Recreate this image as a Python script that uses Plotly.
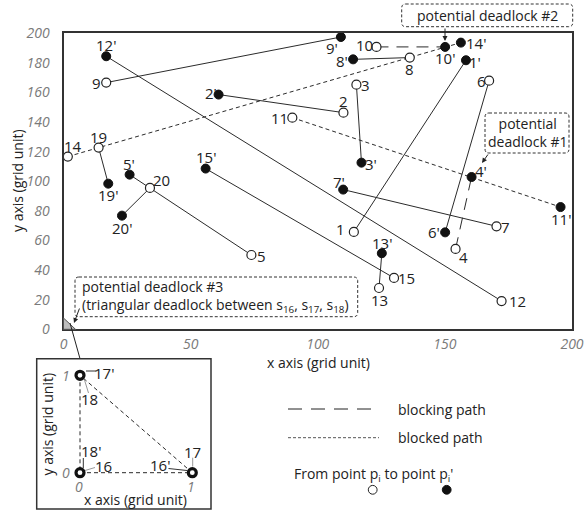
import plotly.graph_objects as go

W, H = 587, 510
FONT = "Open Sans"

# ---------------- data ----------------
path_ids = ["1", "2", "3", "4", "5", "6", "7", "8", "9", "10",
            "11", "12", "13", "14", "15", "19", "20"]
start_x = [114.2, 110.1, 115.2, 154.2, 73.9, 167.4, 170.3, 136.2, 16.8, 123.1,
           90.0, 172.3, 124.1, 1.7, 130.0, 13.8, 34.0]
start_y = [65.8, 146.4, 165.3, 54.3, 50.2, 168.0, 69.6, 183.6, 166.7, 190.8,
           143.0, 19.1, 27.9, 116.7, 34.7, 122.8, 95.5]
end_x = [158.3, 61.0, 117.2, 160.5, 26.0, 150.1, 110.0, 113.9, 109.1, 150.1,
         195.5, 16.8, 125.2, 156.3, 55.9, 17.6, 23.0]
end_y = [181.8, 158.6, 112.6, 102.9, 104.5, 65.5, 94.4, 182.4, 197.5, 190.8,
         82.6, 184.5, 51.4, 193.7, 108.6, 98.4, 76.8]
path_kind = ["free", "free", "free", "blocking", "free", "free", "free", "free",
             "free", "blocking", "blocked", "free", "free", "blocked", "free",
             "free", "free"]

x_ticks = [0, 50, 100, 150, 200]
y_ticks = [0, 20, 40, 60, 80, 100, 120, 140, 160, 180, 200]

# triangular deadlock (unit grid)
tri_ids = ["16", "17", "18"]
tri_start_x = [0, 1, 0]
tri_start_y = [0, 0, 1]
tri_end_x = [1, 0, 0]
tri_end_y = [0, 1, 0]
inset_ticks = [0, 1]

# ---------------- label placement (pixel offsets, +y = down) ----------------
start_off = {"1": (-13, -3), "2": (0, -12), "3": (9, 0), "4": (8, 8), "5": (10, 1),
             "6": (-8, 0), "7": (9, 1), "8": (0, 11), "9": (-10, 0), "10": (-12, -2),
             "11": (-13, 0), "12": (16, 0), "13": (0, 12), "14": (5, -11),
             "15": (12, 0), "19": (0, -11), "20": (12, -8)}
end_off = {"1": (9, 2), "2": (-8, -2), "3": (10, 1), "4": (9, -6), "5": (-1, -11),
           "6": (-11, 0), "7": (-4, -8), "8": (-11, 2), "9": (-9, 11), "10": (0, 11),
           "11": (0, 12), "12": (0, -11), "13": (0, -10), "14": (15, 0),
           "15": (0, -12), "19": (0, 11), "20": (0, 12)}


def PX(x):
    return x / W


def PY(y):
    return 1 - y / H


DASH = {"free": "solid", "blocking": "12px,8px", "blocked": "4px,3px"}

fig = go.Figure()

# path segments, grouped by kind
for kind in ["free", "blocking", "blocked"]:
    xs, ys = [], []
    for i, k in enumerate(path_kind):
        if k == kind:
            xs += [start_x[i], end_x[i], None]
            ys += [start_y[i], end_y[i], None]
    fig.add_trace(go.Scatter(x=xs, y=ys, mode="lines", hoverinfo="skip",
                             line=dict(color="#2b2b2b", width=1, dash=DASH[kind]),
                             showlegend=False, cliponaxis=False))

fig.add_trace(go.Scatter(x=start_x, y=start_y, mode="markers", showlegend=False,
                         cliponaxis=False,
                         marker=dict(size=9, color="white",
                                     line=dict(color="#222", width=1.2))))
fig.add_trace(go.Scatter(x=end_x, y=end_y, mode="markers", showlegend=False,
                         cliponaxis=False,
                         marker=dict(size=9, color="#111",
                                     line=dict(color="#111", width=1))))

annotations = []
lab_font = dict(family=FONT, size=15, color="#222")


def text_at(x, y, txt, font, xanchor="center", **kw):
    # paper-pixel placed text, anchored explicitly
    d = dict(x=PX(x), y=PY(y), xref="paper", yref="paper", text=txt,
             showarrow=False, xanchor=xanchor, yanchor="middle", font=font)
    d.update(kw)
    return d


for i, pid in enumerate(path_ids):
    dx, dy = start_off[pid]
    annotations.append(dict(x=start_x[i], y=start_y[i], xref="x", yref="y",
                            text=pid, showarrow=False, xshift=dx, yshift=-dy,
                            xanchor="center", yanchor="middle", font=lab_font))
    dx, dy = end_off[pid]
    annotations.append(dict(x=end_x[i], y=end_y[i], xref="x", yref="y",
                            text=pid + "'", showarrow=False, xshift=dx, yshift=-dy,
                            xanchor="center", yanchor="middle", font=lab_font))

# ---------------- inset: triangular deadlock ----------------
xs, ys = [], []
for i in range(3):
    xs += [tri_start_x[i], tri_end_x[i], None]
    ys += [tri_start_y[i], tri_end_y[i], None]
fig.add_trace(go.Scatter(x=xs, y=ys, mode="lines", xaxis="x2", yaxis="y2",
                         hoverinfo="skip", showlegend=False, cliponaxis=False,
                         line=dict(color="#2b2b2b", width=1, dash=DASH["blocked"])))
fig.add_trace(go.Scatter(x=tri_start_x, y=tri_start_y, mode="markers",
                         xaxis="x2", yaxis="y2", showlegend=False, cliponaxis=False,
                         marker=dict(size=8, color="white",
                                     line=dict(color="#111", width=3.2))))

tick_font = dict(family=FONT, size=14, color="#7a7a7a", style="italic")

# inset labels: (text, point index, label centre offset)
inset_labels = [("17'", 2, (24, -2)), ("18", 2, (9, 24)), ("18'", 0, (11, -22)),
                ("16", 0, (23, -7)), ("16'", 1, (-32, -8)), ("17", 1, (0, -21))]
for txt, idx, (dx, dy) in inset_labels:
    annotations.append(dict(x=tri_start_x[idx], y=tri_start_y[idx], xref="x2",
                            yref="y2", text=txt, showarrow=False, xshift=dx,
                            yshift=-dy, xanchor="center", yanchor="middle",
                            font=lab_font))
for v in inset_ticks:
    annotations.append(dict(x=v, y=0, xref="x2", yref="y2", text=str(v),
                            showarrow=False, yshift=-14, xshift=-1.5,
                            xanchor="center", yanchor="middle", font=tick_font))
    annotations.append(dict(x=0, y=v, xref="x2", yref="y2", text=str(v),
                            showarrow=False, xshift=-14, xanchor="center",
                            yanchor="middle", font=tick_font))

ax_font = dict(family=FONT, size=14, color="#222")
annotations += [
    text_at(135, 499, "x axis (grid unit)", ax_font),
    text_at(46.5, 424, "y axis (grid unit)", ax_font, textangle=-90),
    text_at(318.5, 362, "x axis (grid unit)", ax_font),
    text_at(17, 181, "y axis (grid unit)", ax_font, textangle=-90),
]

# ---------------- call-outs ----------------
def rrect(x0, y0, x1, y1, r=4):
    pts = (f"M {PX(x0 + r)},{PY(y0)} L {PX(x1 - r)},{PY(y0)} "
           f"Q {PX(x1)},{PY(y0)} {PX(x1)},{PY(y0 + r)} L {PX(x1)},{PY(y1 - r)} "
           f"Q {PX(x1)},{PY(y1)} {PX(x1 - r)},{PY(y1)} L {PX(x0 + r)},{PY(y1)} "
           f"Q {PX(x0)},{PY(y1)} {PX(x0)},{PY(y1 - r)} L {PX(x0)},{PY(y0 + r)} "
           f"Q {PX(x0)},{PY(y0)} {PX(x0 + r)},{PY(y0)} Z")
    return dict(type="path", path=pts, xref="paper", yref="paper",
                line=dict(color="#333", width=1, dash="3px,2px"))


def seg(x0, y0, x1, y1, color="#222", width=1, dash="solid"):
    return dict(type="line", xref="paper", yref="paper", x0=PX(x0), y0=PY(y0),
                x1=PX(x1), y1=PY(y1), line=dict(color=color, width=width, dash=dash))


shapes = [
    rrect(401.7, 4, 572.7, 26.7),
    rrect(485, 113, 569, 153),
    rrect(75, 277, 357.7, 316.7),
    # origin marker and connector to the inset
    dict(type="path", xref="paper", yref="paper",
         path=f"M {PX(63.5)},{PY(318)} L {PX(63.5)},{PY(329.3)} L {PX(75.5)},{PY(329.3)} Z",
         fillcolor="#bdbdbd", line=dict(color="#555", width=1)),
    seg(70, 323, 80, 358.7),
    # inset frame
    dict(type="rect", xref="paper", yref="paper", x0=PX(36.7), y0=PY(358.7),
         x1=PX(211), y1=PY(509), line=dict(color="#333", width=1.5)),
    # inset leaders
    seg(86, 371, 96, 371, color="#333"),
    seg(84.5, 380, 88.5, 393, color="#999"),
    seg(83.3, 458, 83.3, 468, color="#333"),
    seg(85, 470.5, 95, 467.5, color="#999"),
    seg(168.5, 468.5, 187, 470.5, color="#333"),
    seg(192.7, 457.7, 192.7, 466.5, color="#999"),
    # legend samples
    seg(288, 409, 379, 409, dash="14px,9px"),
    seg(288, 437.7, 379, 437.7, color="#555", dash="3px,2px"),
    dict(type="circle", xref="paper", yref="paper", x0=PX(368.3), y0=PY(485.4),
         x1=PX(377.1), y1=PY(494.2), fillcolor="white", line=dict(color="#222", width=1)),
    dict(type="circle", xref="paper", yref="paper", x0=PX(442.3), y0=PY(485.4),
         x1=PX(451.1), y1=PY(494.2), fillcolor="#111", line=dict(color="#111", width=1)),
]

call_font = dict(family=FONT, size=14, color="#222")


def arrow(hx, hy, ax, ay):
    return dict(x=PX(hx), y=PY(hy), xref="paper", yref="paper", ax=ax, ay=ay,
                showarrow=True, arrowhead=2, arrowsize=1, arrowwidth=1,
                arrowcolor="#222", text="")


annotations += [
    text_at(487, 15.5, "potential deadlock #2", call_font),
    text_at(527, 133, "potential<br>deadlock #1", call_font),
    text_at(80, 296.7, "potential deadlock #3<br>(triangular deadlock between "
            "s<sub>16</sub>, s<sub>17</sub>, s<sub>18</sub>)", call_font,
            xanchor="left", align="left"),
    arrow(445, 41, 0, -14),
    arrow(482, 163, 7, -10),
    arrow(74, 323, 6, -16),
    # legend texts
    text_at(396, 409, "blocking path", call_font, xanchor="left"),
    text_at(396, 437.7, "blocked path", call_font, xanchor="left"),
    text_at(291.5, 474, "From point p<sub>i</sub> to point p<sub>i</sub>'",
            call_font, xanchor="left"),
]

fig.update_layout(
    template="none",
    width=W, height=H, margin=dict(l=0, r=0, t=0, b=0, pad=0, autoexpand=False),
    paper_bgcolor="white", plot_bgcolor="white",
    xaxis=dict(domain=[PX(63.5), PX(572)], range=[0, 200], tickvals=x_ticks,
               showgrid=False, zeroline=False, showline=True, mirror=True,
               linecolor="#333", linewidth=2, ticks="", tickfont=tick_font,
               ticklabelstandoff=1, automargin=False),
    yaxis=dict(domain=[PY(329.3), PY(33.3)], range=[0, 200], tickvals=y_ticks,
               showgrid=False, zeroline=False, showline=True, mirror=True,
               linecolor="#333", linewidth=2, ticks="", tickfont=tick_font,
               ticklabelstandoff=9, automargin=False),
    xaxis2=dict(domain=[PX(55), PX(205)], range=[-0.2226, 1.1131], visible=False,
                anchor="y2", automargin=False),
    yaxis2=dict(domain=[PY(485), PY(365)], range=[-0.1263, 1.1058], visible=False,
                anchor="x2", automargin=False),
    annotations=annotations, shapes=shapes,
)

fig.write_html("out.html")
